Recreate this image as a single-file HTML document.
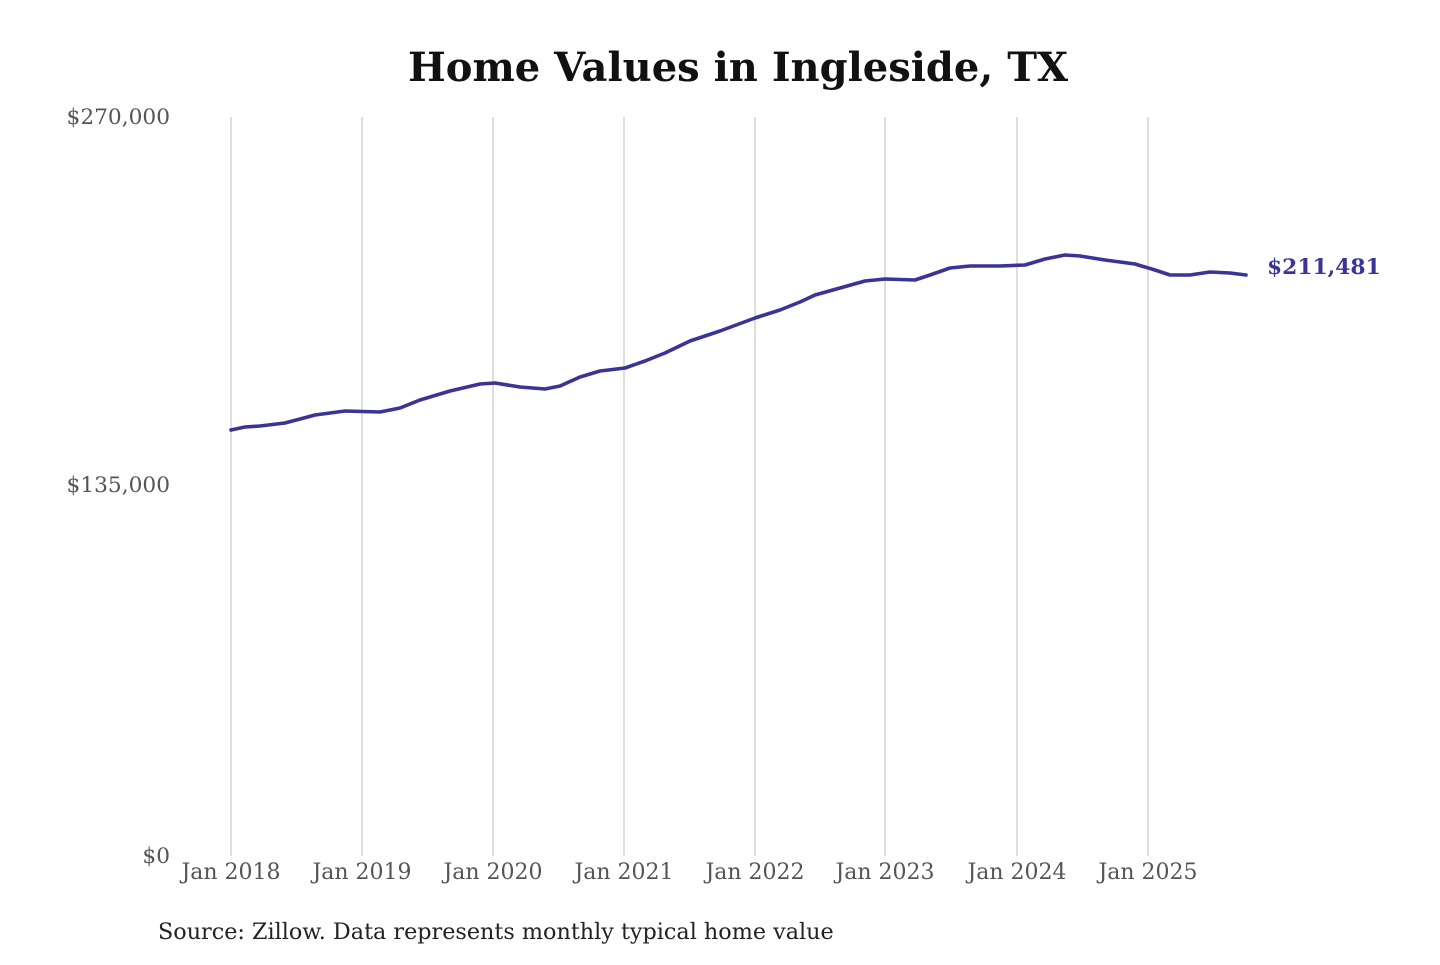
<!DOCTYPE html>
<html><head><meta charset="utf-8"><style>
body{margin:0;background:#fff;}
svg text{font-family:"DejaVu Serif","Liberation Serif",serif;}
</style></head><body>
<svg width="1440" height="960" xmlns="http://www.w3.org/2000/svg">
<rect width="1440" height="960" fill="#fff"/>
<text x="738" y="81" text-anchor="middle" font-size="40" font-weight="bold" fill="#111">Home Values in Ingleside, TX</text>
<g stroke="#bdbdbd" stroke-width="1">
<line x1="231" y1="117" x2="231" y2="856"/><line x1="362" y1="117" x2="362" y2="856"/>
<line x1="493" y1="117" x2="493" y2="856"/><line x1="624" y1="117" x2="624" y2="856"/>
<line x1="755" y1="117" x2="755" y2="856"/><line x1="885" y1="117" x2="885" y2="856"/>
<line x1="1017" y1="117" x2="1017" y2="856"/><line x1="1148" y1="117" x2="1148" y2="856"/>
</g>
<g font-size="21.7" fill="#555" text-anchor="end">
<text x="170" y="124">$270,000</text>
<text x="170" y="492">$135,000</text>
<text x="170" y="863">$0</text>
</g>
<g font-size="22" fill="#555" text-anchor="middle">
<text x="231" y="879">Jan 2018</text><text x="362" y="879">Jan 2019</text>
<text x="493" y="879">Jan 2020</text><text x="624" y="879">Jan 2021</text>
<text x="755" y="879">Jan 2022</text><text x="885" y="879">Jan 2023</text>
<text x="1017" y="879">Jan 2024</text><text x="1148" y="879">Jan 2025</text>
</g>
<polyline fill="none" stroke="#3a3497" stroke-width="3.6" stroke-linejoin="round" stroke-linecap="round"
points="231,430 245,427 260,426 285,423 315,415 345,411 380,412 400,408 420,400 450,391 480,384 495,383 520,387 545,389 560,386 580,377 600,371 625,368 645,361 665,353 690,341 720,331 755,318 780,310 800,302 815,295 840,288 865,281 885,279 915,280 930,275 950,268 970,266 1000,266 1025,265 1045,259 1065,255 1080,256 1105,260 1135,264 1155,270 1170,275 1190,275 1210,272 1230,273 1246,275"/>
<text x="1267" y="274" font-size="21.8" font-weight="bold" fill="#3a3497">$211,481</text>
<text x="158" y="939" font-size="22.3" fill="#222">Source: Zillow. Data represents monthly typical home value</text>
</svg>
</body></html>
